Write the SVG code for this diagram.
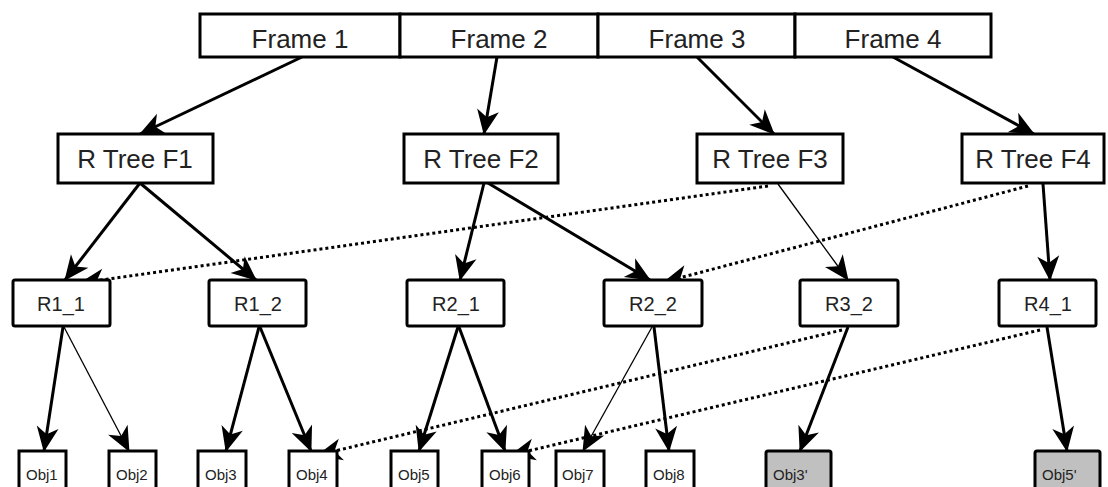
<svg xmlns="http://www.w3.org/2000/svg" width="1108" height="487" viewBox="0 0 1108 487">
<style>
.box{fill:#fff;stroke:#000;stroke-width:3}
.gray{fill:#c0c0c0;stroke:#000;stroke-width:3}
.t1{font-family:"Liberation Sans",Arial,sans-serif;font-size:26px;fill:#222;text-anchor:middle}
.t2{font-family:"Liberation Sans",Arial,sans-serif;font-size:20px;fill:#222;text-anchor:middle}
.t3{font-family:"Liberation Sans",Arial,sans-serif;font-size:15px;fill:#222;text-anchor:start}
.thick{stroke:#000;stroke-width:3;fill:none;marker-end:url(#ah)}
.thin{stroke:#000;stroke-width:1.3;fill:none;marker-end:url(#ah)}
.dot{stroke:#000;stroke-width:3;fill:none;stroke-dasharray:3 3;marker-end:url(#ah)}
</style>
<defs>
<marker id="ah" viewBox="-26 -13 28 26" markerWidth="28" markerHeight="26" refX="0" refY="0" orient="auto" markerUnits="userSpaceOnUse">
<path d="M1,0 L-24,-11 L-17,0 L-24,11 Z" fill="#000"/>
</marker>
</defs>
<rect width="1108" height="487" fill="#fff"/>
<g id="connectors">
<line class="thick" x1="302" y1="57" x2="140" y2="134"/>
<line class="thick" x1="497" y1="57" x2="484" y2="134"/>
<line class="thick" x1="697" y1="57" x2="774" y2="134"/>
<line class="thick" x1="893" y1="57" x2="1034" y2="134"/>
<line class="thick" x1="140" y1="183" x2="65" y2="280"/>
<line class="thick" x1="140" y1="183" x2="256" y2="280"/>
<line class="thick" x1="484" y1="183" x2="460" y2="280"/>
<line class="thick" x1="488" y1="183" x2="650" y2="280"/>
<line class="thin" x1="778" y1="184" x2="848" y2="280"/>
<line class="thick" x1="1043" y1="184" x2="1050" y2="280"/>
<line class="dot" x1="768" y1="186" x2="80" y2="283"/>
<line class="dot" x1="1028" y1="186" x2="664" y2="282"/>
<line class="thick" x1="63" y1="327" x2="44" y2="451"/>
<line class="thin" x1="64" y1="327" x2="129" y2="451"/>
<line class="thick" x1="259" y1="327" x2="226" y2="451"/>
<line class="thick" x1="260" y1="327" x2="311" y2="451"/>
<line class="thick" x1="458" y1="327" x2="419" y2="451"/>
<line class="thick" x1="459" y1="327" x2="505" y2="451"/>
<line class="thin" x1="652" y1="327" x2="583" y2="451"/>
<line class="thick" x1="654" y1="327" x2="669" y2="451"/>
<line class="thick" x1="848" y1="327" x2="800" y2="451"/>
<line class="thick" x1="1047" y1="327" x2="1067" y2="451"/>
<line class="dot" x1="842" y1="330" x2="318" y2="455"/>
<line class="dot" x1="1040" y1="330" x2="511" y2="455"/>
</g>
<g id="frame1"><rect class="box" x="200" y="14" width="200" height="43"/><text class="t1" x="300" y="48">Frame 1</text></g>
<g id="frame2"><rect class="box" x="400" y="14" width="198" height="43"/><text class="t1" x="499" y="48">Frame 2</text></g>
<g id="frame3"><rect class="box" x="598" y="14" width="197" height="43"/><text class="t1" x="697" y="48">Frame 3</text></g>
<g id="frame4"><rect class="box" x="795" y="14" width="196" height="43"/><text class="t1" x="893" y="48">Frame 4</text></g>
<g id="rtree1"><rect class="box" x="58" y="134" width="155" height="49"/><text class="t1" x="135" y="168">R Tree F1</text></g>
<g id="rtree2"><rect class="box" x="404" y="134" width="154" height="49"/><text class="t1" x="481" y="168">R Tree F2</text></g>
<g id="rtree3"><rect class="box" x="697" y="134" width="146" height="49"/><text class="t1" x="770" y="168">R Tree F3</text></g>
<g id="rtree4"><rect class="box" x="962" y="134" width="142" height="49"/><text class="t1" x="1033" y="168">R Tree F4</text></g>
<g id="r1_1"><rect class="box" x="13" y="280" width="97" height="46" rx="2"/><text class="t2" x="61" y="311">R1_1</text></g>
<g id="r1_2"><rect class="box" x="209" y="280" width="97" height="46" rx="2"/><text class="t2" x="258" y="311">R1_2</text></g>
<g id="r2_1"><rect class="box" x="407" y="280" width="97" height="46" rx="2"/><text class="t2" x="456" y="311">R2_1</text></g>
<g id="r2_2"><rect class="box" x="604" y="280" width="98" height="46" rx="2"/><text class="t2" x="653" y="311">R2_2</text></g>
<g id="r3_2"><rect class="box" x="800" y="280" width="98" height="46" rx="2"/><text class="t2" x="849" y="311">R3_2</text></g>
<g id="r4_1"><rect class="box" x="999" y="280" width="97" height="46" rx="2"/><text class="t2" x="1048" y="311">R4_1</text></g>
<g id="obj1"><rect class="box" x="19" y="451" width="47" height="50"/><text class="t3" x="26" y="480">Obj1</text></g>
<g id="obj2"><rect class="box" x="109" y="451" width="47" height="50"/><text class="t3" x="116" y="480">Obj2</text></g>
<g id="obj3"><rect class="box" x="198" y="451" width="48" height="50"/><text class="t3" x="205" y="480">Obj3</text></g>
<g id="obj4"><rect class="box" x="289" y="451" width="48" height="50"/><text class="t3" x="296" y="480">Obj4</text></g>
<g id="obj5"><rect class="box" x="391" y="451" width="47" height="50"/><text class="t3" x="398" y="480">Obj5</text></g>
<g id="obj6"><rect class="box" x="482" y="451" width="47" height="50"/><text class="t3" x="489" y="480">Obj6</text></g>
<g id="obj7"><rect class="box" x="556" y="451" width="48" height="50"/><text class="t3" x="562" y="480">Obj7</text></g>
<g id="obj8"><rect class="box" x="646" y="451" width="48" height="50"/><text class="t3" x="653" y="480">Obj8</text></g>
<g id="obj3p"><rect class="gray" x="766" y="451" width="65" height="50" rx="2"/><text class="t3" x="773" y="480">Obj3'</text></g>
<g id="obj5p"><rect class="gray" x="1035" y="451" width="65" height="50" rx="2"/><text class="t3" x="1042" y="480">Obj5'</text></g>
</svg>
